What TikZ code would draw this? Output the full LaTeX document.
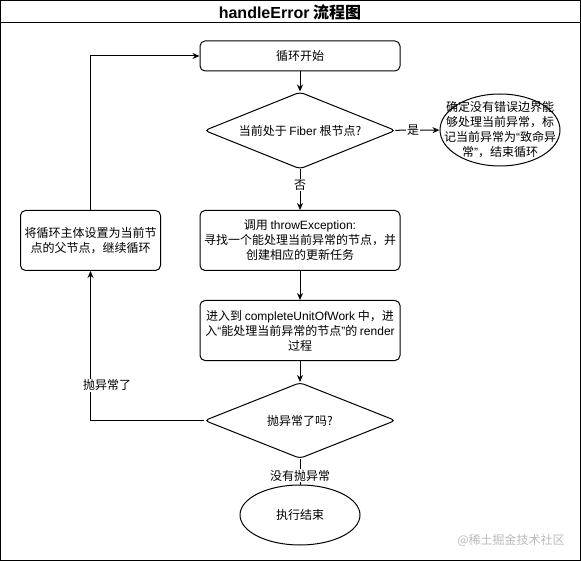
\documentclass[tikz,border=0pt]{standalone}
\usepackage{fontspec}
\setmainfont{Noto Sans CJK SC}
\newfontfamily\latin{Liberation Sans}
\usetikzlibrary{shapes.geometric,arrows.meta}

\tikzset{
  box/.style={draw, rounded corners=5pt, minimum width=200pt, minimum height=60pt, align=center, inner sep=0pt},
  decision/.style={draw, diamond, rounded corners=4pt, minimum width=191pt, minimum height=77pt, inner sep=0pt},
  oval/.style={draw, ellipse, inner sep=0pt},
  flow/.style={-{Stealth[length=7pt,width=6pt]}},
  tag/.style={fill=white, inner sep=1pt}
}

\begin{document}
\begin{tikzpicture}[x=1pt, y=-1pt, line width=1pt, font=\fontsize{12}{15}\selectfont]
  \useasboundingbox (0,0) rectangle (581,561);
  \draw (0.5,0.5) rectangle (580.5,560.5);
  \draw (0.5,23) -- (580.5,23);
  \node[font=\fontsize{16}{18}\selectfont\bfseries] (title) at (290,12.5) {{\latin handleError} 流程图};

  \node[box, minimum height=30pt] (start) at (300,56) {循环开始};
  \node[decision] (isroot) at (300,130.5) {\makebox[0pt]{当前处于 {\latin Fiber} 根节点?}};
  \node[oval, minimum width=120pt, minimum height=72pt] (fatal) at (500,130) {};
  \node[align=center] (fataltext) at (fatal) {确定没有错误边界能\\够处理当前异常，标\\记当前异常为{\latin “}致命异\\常{\latin ”}，结束循环};
  \node[box] (throwex) at (300,240.5) {调用 {\latin throwException:}\\寻找一个能处理当前异常的节点，并\\创建相应的更新任务};
  \node[box, minimum width=140pt] (loopback) at (90.5,240.5) {将循环主体设置为当前节\\点的父节点，继续循环};
  \node[box] (complete) at (300,330.5) {进入到 {\latin completeUnitOfWork} 中，进\\入{\latin “}能处理当前异常的节点{\latin ”}的 {\latin render}\\过程};
  \node[decision, minimum height=76pt] (thrown) at (300,420.5) {\makebox[0pt]{抛异常了吗?}};
  \node[oval, minimum width=120pt, minimum height=60pt] (done) at (300,515) {执行结束};
  \node[text=gray!55] (watermark) at (511,540) {@稀土掘金技术社区};

  \draw[flow] (start) -- (isroot);
  \draw[flow] (isroot) -- node[tag, pos=0.4] (yes) {是} (fatal);
  \draw[flow] (isroot) -- node[tag, pos=0.38] (no) {否} (throwex);
  \draw[flow] (throwex) -- (complete);
  \draw[flow] (complete) -- (thrown);
  \draw[flow] (thrown.west) -| node[tag, pos=0.618, xshift=16.5pt] (again) {抛异常了} (loopback.south);
  \draw (thrown) -- node[tag, pos=0.66] (finish) {没有抛异常} (done);
  \draw[flow] (loopback.north) |- (start.west);
\end{tikzpicture}
\end{document}
